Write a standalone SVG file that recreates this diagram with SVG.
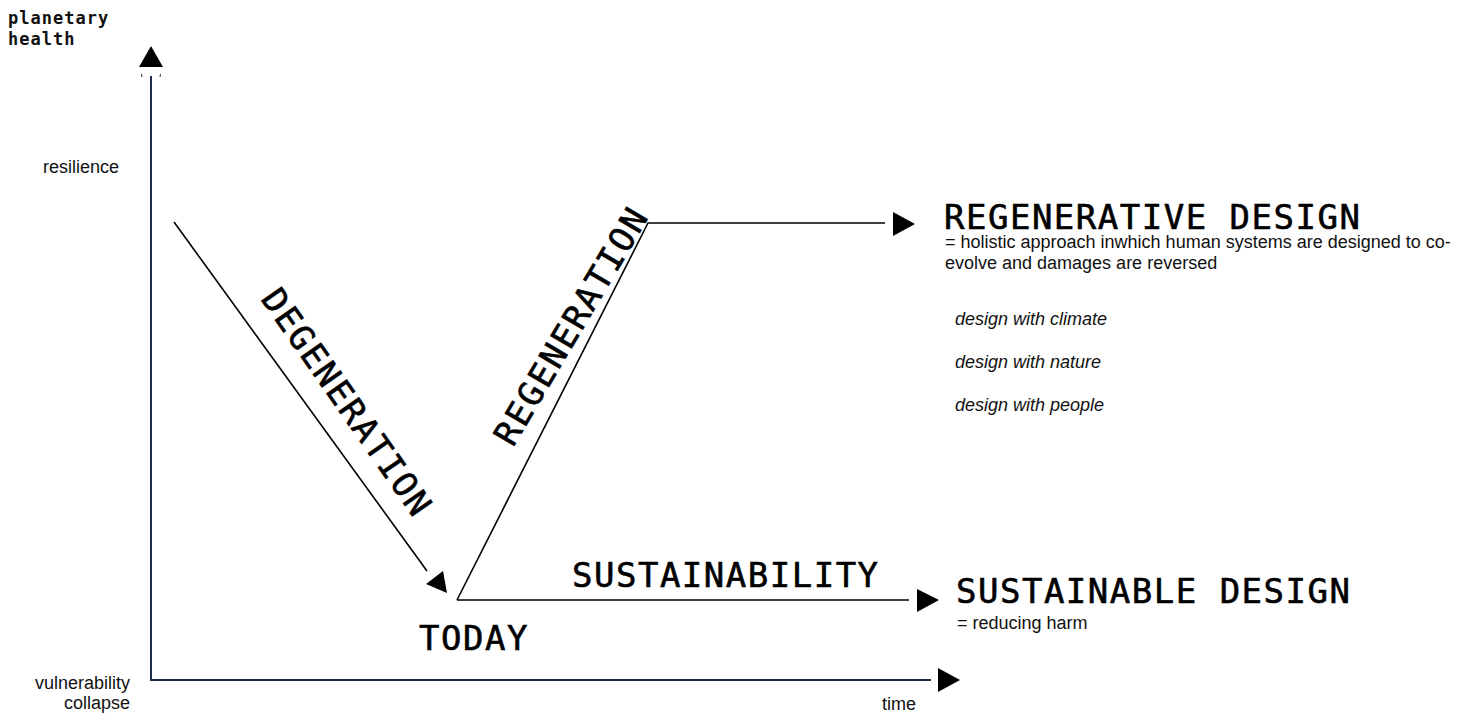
<svg xmlns="http://www.w3.org/2000/svg" width="1477" height="713" viewBox="0 0 1477 713">
<defs>
<style>
.mono{font-family:"DejaVu Sans Mono","Liberation Mono",monospace;font-size:34px;letter-spacing:1.5px;fill:#000;stroke:#000;stroke-width:0.6px}
.rot{letter-spacing:2px}
.body{font-family:"Liberation Sans",Arial,sans-serif;font-size:18px;fill:#111}
.it{font-style:italic}
.axislbl{font-family:"DejaVu Sans Mono","Liberation Mono",monospace;font-size:17px;font-weight:bold;letter-spacing:1px;fill:#111}
.axis{stroke:#1f2d4b;stroke-width:2;fill:none}
.conn{stroke:#000;stroke-width:1.6;fill:none}
.head{fill:#000;stroke:none}
</style>
</defs>
<rect width="1477" height="713" fill="#fff"/>

<g id="axes">
  <line class="axis" x1="151" y1="76" x2="151" y2="681"/>
  <line class="axis" x1="150" y1="680" x2="931" y2="680"/>
  <polygon class="head" points="151,46 139,67 163,67"/>
  <polygon class="head" points="938,668 938,692 960,680"/>
  <path d="M141.5,74 l0.5,3 M160.5,74 l-0.5,3" stroke="#1f2d4b" stroke-width="1"/>
</g>

<g id="axis-labels">
  <text class="axislbl" x="8" y="24">planetary</text>
  <text class="axislbl" x="8" y="45">health</text>
  <text class="body" x="119" y="173" text-anchor="end">resilience</text>
  <text class="body" x="130" y="689" text-anchor="end">vulnerability</text>
  <text class="body" x="130" y="709" text-anchor="end">collapse</text>
  <text class="body" x="899" y="710" text-anchor="middle">time</text>
</g>

<g id="connectors">
  <g id="degeneration">
    <line class="conn" x1="174" y1="222" x2="427" y2="571"/>
    <polygon class="head" points="426,584 443,571 447,593"/>
    <text class="mono rot" transform="translate(260,299) rotate(55)">DEGENERATION</text>
  </g>
  <g id="regeneration">
    <polyline class="conn" points="457,600 648,223 885,223"/>
    <polygon class="head" points="893,212 893,236 915,224"/>
    <text class="mono rot" transform="translate(513,448) rotate(-59.5)">REGENERATION</text>
  </g>
  <g id="sustainability">
    <line class="conn" x1="457" y1="600" x2="909" y2="600"/>
    <polygon class="head" points="917,589 917,612 939,600"/>
    <text class="mono" x="572" y="587">SUSTAINABILITY</text>
  </g>
</g>

<g id="today">
  <text class="mono" x="419" y="650">TODAY</text>
</g>

<g id="regenerative-design">
  <text class="mono" x="944" y="229">REGENERATIVE DESIGN</text>
  <text class="body" x="945" y="248">= holistic approach inwhich human systems are designed to co-</text>
  <text class="body" x="945" y="269">evolve and damages are reversed</text>
  <text class="body it" x="955" y="325">design with climate</text>
  <text class="body it" x="955" y="368">design with nature</text>
  <text class="body it" x="955" y="411">design with people</text>
</g>

<g id="sustainable-design">
  <text class="mono" x="956" y="603">SUSTAINABLE DESIGN</text>
  <text class="body" x="957" y="629">= reducing harm</text>
</g>
</svg>
